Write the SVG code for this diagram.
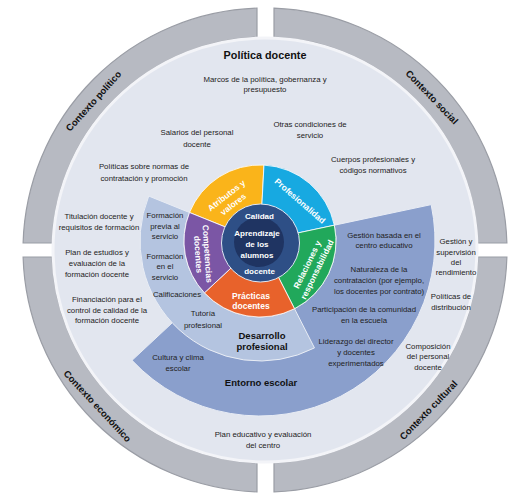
<svg xmlns="http://www.w3.org/2000/svg" width="512" height="498" viewBox="0 0 512 498">
<defs>
<style>
text{font-family:"Liberation Sans",Arial,sans-serif;text-anchor:middle}
.t{font-size:7.8px;fill:#222}
.h{font-size:9.5px;font-weight:bold;fill:#111}
.ctx{font-size:9.5px;font-weight:bold;fill:#111}
.w{font-size:8.5px;font-weight:bold;fill:#fff}
.c{font-size:8px;font-weight:bold;fill:#fff}
.ring{fill:#b7bac2;stroke:#9a9da5;stroke-width:1.2}
.seg{stroke:#fff;stroke-width:0.8}
</style>
</defs>
<rect width="512" height="498" fill="#fff"/>

<g id="contexto-politico">
<path class="ring" d="M23.1,243 A242,242 0 0 1 257,8.13 L257,37.15 A213,213 0 0 0 52.12,243 Z"/>
<text class="ctx" transform="translate(93.5,101) rotate(-48)" y="3.4">Contexto político</text>
</g>
<g id="contexto-social">
<path class="ring" d="M274,8.17 A242,242 0 0 1 506.9,243 L477.88,243 A213,213 0 0 0 274,37.19 Z"/>
<text class="ctx" transform="translate(432,97) rotate(46)" y="3.4">Contexto social</text>
</g>
<g id="contexto-cultural">
<path class="ring" d="M506.9,257 A242,242 0 0 1 274,491.83 L274,462.81 A213,213 0 0 0 477.88,257 Z"/>
<text class="ctx" transform="translate(428.5,410) rotate(-46)" y="3.4">Contexto cultural</text>
</g>
<g id="contexto-economico">
<path class="ring" d="M257,491.87 A242,242 0 0 1 23.1,257 L52.12,257 A213,213 0 0 0 257,462.85 Z"/>
<text class="ctx" transform="translate(97.5,406) rotate(47)" y="3.4">Contexto económico</text>
</g>

<g id="politica-docente">
<circle cx="265" cy="250" r="212" fill="#e2e6ef" stroke="#f3f4f8" stroke-width="3"/>
<text class="h" x="265" y="59" style="font-size:10.8px">Política docente</text>
<text class="t" x="265" y="82">Marcos de la política, gobernanza y</text>
<text class="t" x="265" y="92">presupuesto</text>
<text class="t" x="197" y="135">Salarios del personal</text>
<text class="t" x="197" y="146.6">docente</text>
<text class="t" x="310" y="126.6">Otras condiciones de</text>
<text class="t" x="310" y="137.6">servicio</text>
<text class="t" x="373" y="162">Cuerpos profesionales y</text>
<text class="t" x="373" y="173.3">códigos normativos</text>
<text class="t" x="144" y="168.6">Políticas sobre normas de</text>
<text class="t" x="144" y="181">contratación y promoción</text>
<text class="t" x="99" y="219.3">Titulación docente y</text>
<text class="t" x="99" y="230.3">requisitos de formación</text>
<text class="t" x="97" y="255.3">Plan de estudios y</text>
<text class="t" x="97" y="266">evaluación de la</text>
<text class="t" x="97" y="276.6">formación docente</text>
<text class="t" x="107" y="302">Financiación para el</text>
<text class="t" x="107" y="312.6">control de calidad de la</text>
<text class="t" x="107" y="323.3">formación docente</text>
<text class="t" x="456" y="244.3">Gestión y</text>
<text class="t" x="456" y="254.6">supervisión</text>
<text class="t" x="456" y="264.9">del</text>
<text class="t" x="456" y="275">rendimiento</text>
<text class="t" x="451" y="299.3">Políticas de</text>
<text class="t" x="451" y="310">distribución</text>
<text class="t" x="428" y="348.6">Composición</text>
<text class="t" x="428" y="359.3">del personal</text>
<text class="t" x="428" y="370">docente</text>
<text class="t" x="263" y="437">Plan educativo y evaluación</text>
<text class="t" x="263" y="447.6">del centro</text>
</g>

<g id="entorno-escolar">
<path d="M334.34,225.2 L431.17,204.62 A175,175 0 0 1 132.01,360.35 L204.41,292.83 A76,76 0 0 0 334.34,225.2 Z" fill="#8a9fcc" stroke="#e9edf5" stroke-width="1"/>
<text class="h" x="261" y="386">Entorno escolar</text>
<text class="t" x="178" y="360.3">Cultura y clima</text>
<text class="t" x="178" y="371">escolar</text>
<text class="t" x="384" y="237.6">Gestión basada en el</text>
<text class="t" x="384" y="248.3">centro educativo</text>
<text class="t" x="379" y="271.6">Naturaleza de la</text>
<text class="t" x="379" y="282.6">contratación (por ejemplo,</text>
<text class="t" x="379" y="293.6">los docentes por contrato)</text>
<text class="t" x="364" y="311.6">Participación de la comunidad</text>
<text class="t" x="364" y="322.6">en la escuela</text>
<text class="t" x="356" y="344.3">Liderazgo del director</text>
<text class="t" x="356" y="355.3">y docentes</text>
<text class="t" x="356" y="366">experimentados</text>
</g>

<g id="desarrollo-profesional">
<path d="M294.5,308.72 L314.48,347.92 A120,120 0 0 1 148.74,196.05 L189.53,212.53 A76,76 0 0 0 294.5,308.72 Z" fill="#b4c4e0" stroke="#e9edf5" stroke-width="1"/>
<text class="h" x="262" y="338.5">Desarrollo</text>
<text class="h" x="262" y="349.5">profesional</text>
<text class="t" x="165" y="217.6">Formación</text>
<text class="t" x="165" y="228.6">previa al</text>
<text class="t" x="165" y="239.3">servicio</text>
<text class="t" x="165" y="258.6">Formación</text>
<text class="t" x="165" y="269.3">en el</text>
<text class="t" x="165" y="280">servicio</text>
<text class="t" x="177" y="297">Calificaciones</text>
<text class="t" x="203" y="316">Tutoría</text>
<text class="t" x="203" y="327.6">profesional</text>
</g>

<g id="atributos-valores">
<path class="seg" d="M260,241 L189.53,212.53 A76,76 0 0 1 263.98,165.1 Z" fill="#fab41a"/>
<text class="w" transform="translate(229.7,199.7) rotate(-38)"><tspan x="0" y="-2.4">Atributos y</tspan><tspan x="0" y="8.6">valores</tspan></text>
</g>
<g id="profesionalidad">
<path class="seg" d="M260,241 L263.98,165.1 A76,76 0 0 1 334.34,225.2 Z" fill="#17a9e1"/>
<text class="w" transform="translate(300,201) rotate(41)" y="3">Profesionalidad</text>
</g>
<g id="relaciones-responsabilidad">
<path class="seg" d="M260,241 L334.34,225.2 A76,76 0 0 1 294.5,308.72 Z" fill="#21a85b"/>
<text class="w" transform="translate(312,267) rotate(-64)"><tspan x="0" y="-2.4">Relaciones y</tspan><tspan x="0" y="8.6">responsabilidad</tspan></text>
</g>
<g id="practicas-docentes">
<path class="seg" d="M260,241 L294.5,308.72 A76,76 0 0 1 204.41,292.83 Z" fill="#e8622b"/>
<text class="w" x="251" y="299">Prácticas</text>
<text class="w" x="251" y="309">docentes</text>
</g>
<g id="competencias-docentes">
<path class="seg" d="M260,241 L204.41,292.83 A76,76 0 0 1 189.53,212.53 Z" fill="#7b56a5"/>
<text class="w" transform="translate(203,254) rotate(86)"><tspan x="0" y="-1.5">Competencias</tspan><tspan x="0" y="7.8">docentes</tspan></text>
</g>

<g id="calidad-docente">
<circle cx="260.5" cy="243" r="39" fill="#2e4f86" stroke="#dfe6f2" stroke-width="1"/>
<circle cx="259" cy="242" r="25" fill="#1f3462"/>
<text class="c" x="259.5" y="219">Calidad</text>
<text class="c" x="259.5" y="273.5">docente</text>
</g>
<g id="aprendizaje-alumnos">
<text class="c" x="257" y="235.5">Aprendizaje</text>
<text class="c" x="257" y="247">de los</text>
<text class="c" x="257" y="258">alumnos</text>
</g>

<g id="connectors"></g>
</svg>
